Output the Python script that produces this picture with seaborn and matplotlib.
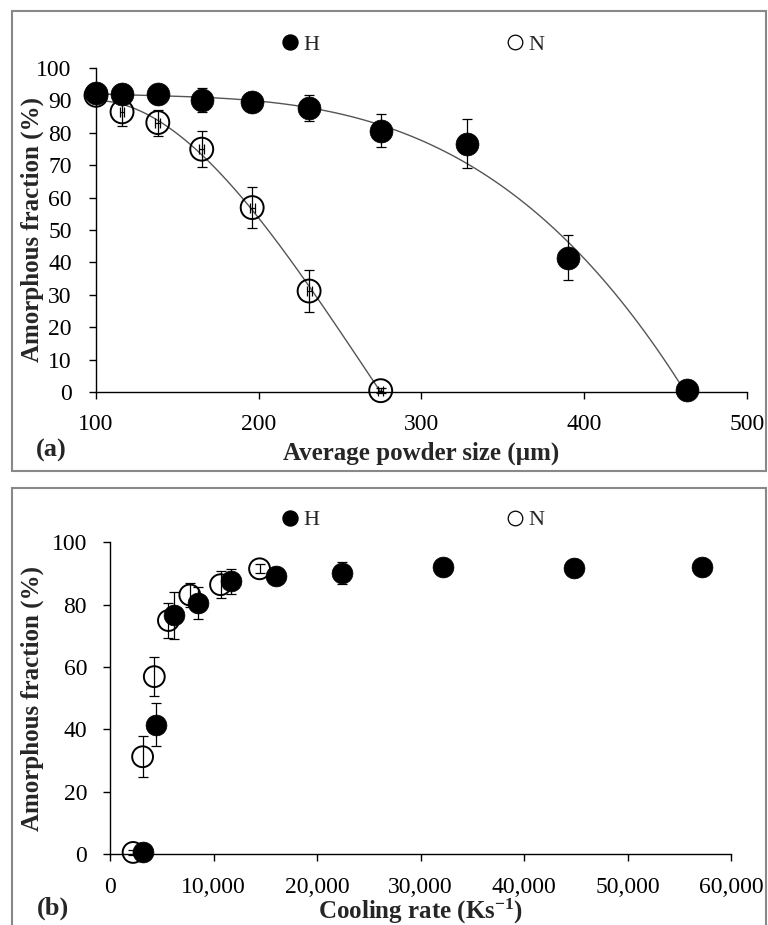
import numpy as np
import pandas as pd
import matplotlib
matplotlib.use('Agg')
import matplotlib.pyplot as plt
from matplotlib.lines import Line2D
from matplotlib.patches import Rectangle
from matplotlib.ticker import FuncFormatter
import seaborn as sns

# ---------------- data ----------------
H_size = [100, 116, 138, 165, 196, 231, 275, 328, 390, 463]
H_frac = [92.1, 91.8, 92.0, 90.1, 89.3, 87.5, 80.6, 76.6, 41.5, 0.7]
H_err = [1.5, 1.5, 1.5, 3.6, 2.0, 4.0, 5.1, 7.5, 6.9, 0.5]
H_rate = [57200, 44800, 32150, 22400, 16050, 11700, 8550, 6150, 4450, 3150]

N_size = [100, 116, 138, 165, 196, 231, 275]
N_frac = [91.5, 86.4, 83.1, 74.9, 56.9, 31.2, 0.5]
N_err = [1.5, 4.4, 4.0, 5.5, 6.3, 6.6, 0.8]
N_size_err = [1.5, 1.5, 1.5, 1.5, 1.5, 1.5, 1.5]
N_rate = [14450, 10680, 7710, 5645, 4280, 3150, 2230]

legend_labels = ['H', 'N']
x1_ticks = [100, 200, 300, 400, 500]
y1_ticks = [0, 10, 20, 30, 40, 50, 60, 70, 80, 90, 100]
x2_ticks = [0, 10000, 20000, 30000, 40000, 50000, 60000]
y2_ticks = [0, 20, 40, 60, 80, 100]

dfH = pd.DataFrame({'size': H_size, 'frac': H_frac, 'err': H_err, 'rate': H_rate})
dfN = pd.DataFrame({'size': N_size, 'frac': N_frac, 'err': N_err, 'rate': N_rate})

# ---------------- style ----------------
sns.set_style('ticks')
plt.rcParams['font.family'] = ['Liberation Serif', 'DejaVu Serif']
plt.rcParams['mathtext.fontset'] = 'custom'
plt.rcParams['mathtext.rm'] = 'Liberation Serif'
plt.rcParams['mathtext.bf'] = 'Liberation Serif:bold'
plt.rcParams['mathtext.it'] = 'Liberation Serif:italic'

W, H = 768, 925
fig = plt.figure(figsize=(W / 100, H / 100), dpi=100)


def px_axes(left, top, right, bottom):
    return fig.add_axes([left / W, 1 - bottom / H, (right - left) / W, (bottom - top) / H])


ax1 = px_axes(96, 67.7, 746.7, 392.3)
ax2 = px_axes(110, 542.3, 731, 854)

line_col = '#555555'
ms_top = 16.5
ms_bot = 15.0

# ---------------- top panel ----------------
sns.regplot(data=dfH, x='size', y='frac', order=3, ci=None, scatter=False, ax=ax1,
            line_kws=dict(color=line_col, lw=1.0, zorder=1))
sns.regplot(data=dfN, x='size', y='frac', order=3, ci=None, scatter=False, ax=ax1,
            line_kws=dict(color=line_col, lw=1.0, zorder=1))

ax1.errorbar(dfN['size'], dfN['frac'], yerr=dfN['err'], xerr=N_size_err, fmt='none',
             ecolor='black', elinewidth=0.9, capsize=3.6, capthick=0.9, zorder=2, clip_on=False)
sns.scatterplot(data=dfN, x='size', y='frac', ax=ax1, marker='o', s=ms_top ** 2,
                color='black', linewidth=1.4, zorder=3, clip_on=False)
ax1.collections[-1].set_facecolor('none')
ax1.collections[-1].set_edgecolor('black')

ax1.errorbar(dfH['size'], dfH['frac'], yerr=dfH['err'], fmt='none',
             ecolor='black', elinewidth=0.9, capsize=3.6, capthick=0.9, zorder=4, clip_on=False)
sns.scatterplot(data=dfH, x='size', y='frac', ax=ax1, marker='o', s=ms_top ** 2,
                color='black', edgecolor='black', linewidth=0.5, zorder=5, clip_on=False)

ax1.set_xlim(100, 500)
ax1.set_ylim(0, 100)
ax1.set_xticks(x1_ticks)
ax1.set_yticks(y1_ticks)

# ---------------- bottom panel ----------------
ax2.errorbar(dfN['rate'], dfN['frac'], yerr=dfN['err'], fmt='none',
             ecolor='black', elinewidth=0.9, capsize=3.6, capthick=0.9, zorder=2, clip_on=False)
sns.scatterplot(data=dfN, x='rate', y='frac', ax=ax2, marker='o', s=ms_bot ** 2,
                color='black', linewidth=1.4, zorder=3, clip_on=False)
ax2.collections[-1].set_facecolor('none')
ax2.collections[-1].set_edgecolor('black')

ax2.errorbar(dfH['rate'], dfH['frac'], yerr=dfH['err'], fmt='none',
             ecolor='black', elinewidth=0.9, capsize=3.6, capthick=0.9, zorder=4, clip_on=False)
sns.scatterplot(data=dfH, x='rate', y='frac', ax=ax2, marker='o', s=ms_bot ** 2,
                color='black', edgecolor='black', linewidth=0.5, zorder=5, clip_on=False)

ax2.set_xlim(0, 60000)
ax2.set_ylim(0, 100)
ax2.set_xticks(x2_ticks)
ax2.set_yticks(y2_ticks)
ax2.xaxis.set_major_formatter(FuncFormatter(lambda v, p: f'{v:,.0f}'))

# ---------------- axes styling ----------------
for ax in (ax1, ax2):
    sns.despine(ax=ax)
    for sp in ('left', 'bottom'):
        ax.spines[sp].set_color('black')
        ax.spines[sp].set_linewidth(1.0)
    ax.tick_params(direction='out', length=5, width=1.0, colors='black', labelsize=17)
    ax.set_facecolor('none')

ax1.tick_params(axis='y', pad=12.5)
ax1.tick_params(axis='x', pad=10.5)
ax2.tick_params(axis='y', pad=11.5)
ax2.tick_params(axis='x', pad=11.5)

ylab = 'Amorphous fraction (%)'
for ax, xl, xlab_y, ylab_x in ((ax1, 'Average powder size (µm)', 460, 38.5),
                               (ax2, r'Cooling rate (Ks$^{\mathbf{-1}}$)', 919, 38.5)):
    ax.set_xlabel(xl, fontsize=18, fontweight='bold')
    ax.set_ylabel(ylab, fontsize=18, fontweight='bold')
    ax.xaxis.label.set_va('baseline')
    ax.yaxis.label.set_va('baseline')
    bb = ax.get_position()
    y_ax = ((H - xlab_y) / H - bb.y0) / bb.height
    x_ax = (ylab_x / W - bb.x0) / bb.width
    ax.xaxis.set_label_coords(0.5, y_ax)
    ax.yaxis.set_label_coords(x_ax, 0.5)

fig.text(51.7 / W, 1 - 457 / H, '(a)', fontsize=19, fontweight='bold', ha='center', va='baseline')
fig.text(52.7 / W, 1 - 915 / H, '(b)', fontsize=19, fontweight='bold', ha='center', va='baseline')

# ---------------- legends ----------------
handles = [Line2D([], [], marker='o', ls='', mfc='black', mec='black', ms=10.8),
           Line2D([], [], marker='o', ls='', mfc='none', mec='black', mew=0.9, ms=10.5)]
for ax, ly in ((ax1, 44.5), (ax2, 520)):
    ax.legend(handles=handles, labels=legend_labels, ncol=2, frameon=False, loc='center',
              bbox_to_anchor=(413.25 / W, 1 - ly / H), bbox_transform=fig.transFigure,
              fontsize=16, handlelength=0.7, handletextpad=0.25, columnspacing=8.46,
              borderaxespad=0, borderpad=0)

# ---------------- chart-area frames ----------------
frame_col = '#888888'
fig.add_artist(Rectangle((12 / W, 1 - 470.7 / H), (766 - 12) / W, (470.7 - 11) / H,
                         transform=fig.transFigure, fill=False, ec=frame_col, lw=1.5))
fig.add_artist(Rectangle((12 / W, 1 - 940 / H), (766 - 12) / W, (940 - 488.3) / H,
                         transform=fig.transFigure, fill=False, ec=frame_col, lw=1.5))

fig.savefig('out.png', dpi=100)
